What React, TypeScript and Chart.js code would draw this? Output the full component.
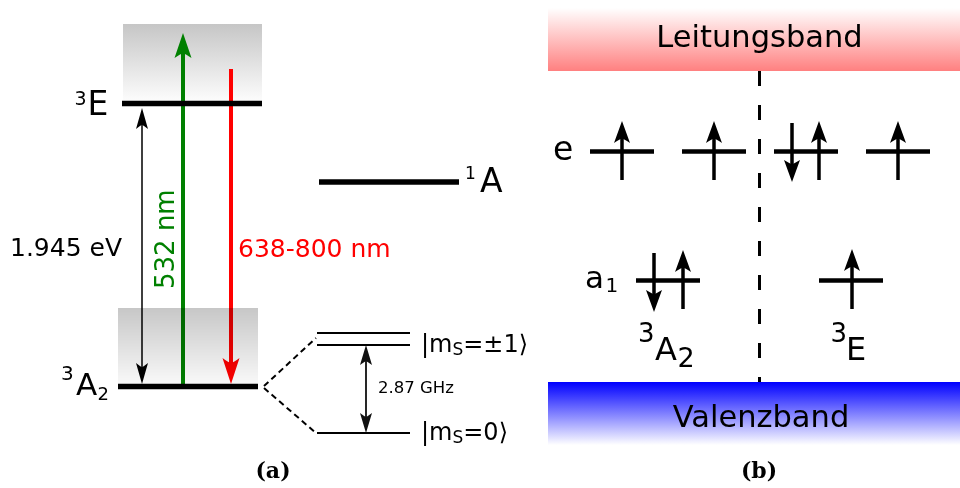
import { useEffect, useRef } from 'react';
import { Chart, registerables } from 'chart.js';

Chart.register(...registerables);

const WIDTH = 960;
const HEIGHT = 488;

// ---------- Panel (a): NV-centre energy scheme ----------
// electronic states: [xStart, xEnd, y]
const stateLevels: number[][] = [
  [122, 262, 103.5], // ³E
  [118, 258, 386.5], // ³A₂
  [319, 459, 182],   // ¹A
];
// ground-state spin sublevels: two |ms=±1⟩ lines and one |ms=0⟩ line
const spinSublevels: number[][] = [
  [317, 410, 333],
  [317, 410, 345],
  [317, 410, 433],
];
// dashed connectors from ³A₂ to its sublevels: [x0, y0, x1, y1]
const splitConnectors: number[][] = [
  [264, 386, 316, 338],
  [264, 388, 316, 433],
];
// phonon sidebands above each triplet level: [x0, x1, yTop, yBottom]
const upperSideband = [123, 262, 24, 103.5];
const lowerSideband = [118, 258, 308, 386.5];
// transitions: [x, yFrom, yTo]
const excitation532 = [183, 384, 33];
const emission638 = [231, 69, 384];
const zeroPhononGap = [142, 108, 384];   // double-headed
const zeroFieldSplit = [366, 345, 433];  // double-headed

// ---------- Panel (b): single-particle picture ----------
const conductionBand = [548, 960, 8, 71];
const valenceBand = [548, 960, 382, 445];
const bandDivider = [759.5, 71, 382];
// orbitals e (upper row) and a₁ (lower row): [xStart, xEnd, y]
const orbitalLevels: number[][] = [
  [590, 654, 151.5], [682, 746, 151.5], [774, 838, 151.5], [866, 930, 151.5],
  [636, 700, 280.5], [819, 883, 280.5],
];
// electron spins: [x, tailY, tipY]
const electronSpins: number[][] = [
  [622, 180, 121], [714, 180, 121], [792, 123, 182], [819, 180, 121], [898, 180, 121],
  [654, 253, 312], [683, 309, 250], [852, 309, 249],
];

type Pt = { x: number; y: number };
type Arrow = { x: number; from: number; to: number; color: string; width: number; len: number; wid: number; both: boolean };

const arrows: Arrow[] = [
  { x: excitation532[0], from: excitation532[1], to: excitation532[2], color: '#008000', width: 4, len: 25, wid: 17, both: false },
  { x: emission638[0], from: emission638[1], to: emission638[2], color: '#ff0000', width: 4, len: 26, wid: 17, both: false },
  { x: zeroPhononGap[0], from: zeroPhononGap[1], to: zeroPhononGap[2], color: '#000', width: 1.5, len: 21, wid: 12, both: true },
  { x: zeroFieldSplit[0], from: zeroFieldSplit[1], to: zeroFieldSplit[2], color: '#111', width: 1.8, len: 20, wid: 12, both: true },
  ...electronSpins.map(([x, f, t]) => ({ x, from: f, to: t, color: '#000', width: 3.5, len: 22, wid: 16, both: false })),
];

function lineDs(points: Pt[], color: string, width: number, dash: number[] = []) {
  return {
    data: points,
    showLine: true,
    borderColor: color,
    backgroundColor: color,
    borderWidth: width,
    borderDash: dash,
    borderCapStyle: 'butt',
    pointRadius: 0,
    pointHoverRadius: 0,
    fill: false,
    tension: 0,
    clip: false,
  };
}

function buildDatasets() {
  const ds: any[] = [];
  stateLevels.forEach(([a, b, y]) => ds.push(lineDs([{ x: a, y }, { x: b, y }], '#000', 5.5)));
  spinSublevels.forEach(([a, b, y]) => ds.push(lineDs([{ x: a, y }, { x: b, y }], '#000', 2)));
  splitConnectors.forEach(([x0, y0, x1, y1]) => ds.push(lineDs([{ x: x0, y: y0 }, { x: x1, y: y1 }], '#000', 2, [6, 4])));
  orbitalLevels.forEach(([a, b, y]) => ds.push(lineDs([{ x: a, y }, { x: b, y }], '#000', 4.5)));
  ds.push(lineDs([{ x: bandDivider[0], y: bandDivider[1] }, { x: bandDivider[0], y: bandDivider[2] }], '#000', 3, [15, 19]));
  arrows.forEach((a) => {
    const dir = Math.sign(a.to - a.from);
    const start = a.both ? a.from + dir * a.len * 0.6 : a.from;
    const end = a.to - dir * a.len * 0.6;
    ds.push(lineDs([{ x: a.x, y: start }, { x: a.x, y: end }], a.color, a.width));
  });
  return ds;
}

function drawHead(ctx: CanvasRenderingContext2D, x: number, y: number, dir: number, len: number, wid: number, color: string) {
  // dir = +1 points down, -1 points up; straight flanks with a shallow notched back
  ctx.save();
  ctx.fillStyle = color;
  ctx.beginPath();
  ctx.moveTo(x, y);
  ctx.lineTo(x + wid / 2, y - dir * len);
  ctx.quadraticCurveTo(x + wid * 0.15, y - dir * len * 0.84, x, y - dir * len * 0.8);
  ctx.quadraticCurveTo(x - wid * 0.15, y - dir * len * 0.84, x - wid / 2, y - dir * len);
  ctx.closePath();
  ctx.fill();
  ctx.restore();
}

const SANS = '"DejaVu Sans", sans-serif';

// text pieces: [text, x, baseline, size]
type Piece = [string, number, number, number];
const blackPieces: Piece[] = [
  ['3', 74.5, 105, 19], ['E', 87.5, 115, 33],
  ['3', 61, 380, 20], ['A', 76, 395, 31], ['2', 97.5, 400, 18],
  ['1', 465, 179, 17], ['A', 480, 192, 33],
  ['1.945 eV', 10, 256, 25],
  ['2.87 GHz', 378, 393, 16.5],
  ['e', 553, 160, 33],
  ['a', 585, 288, 31], ['1', 605.5, 292, 20],
  ['3', 638, 342, 26], ['A', 655, 360, 32], ['2', 677.5, 367, 27],
  ['3', 830.5, 342, 26], ['E', 846, 360, 32],
];

// rich runs: [text, size, rise]
const ketPlusMinus: [string, number, number][] = [['|m', 24, 0], ['S', 17, -3], ['=±1⟩', 24, 0]];
const ketZero: [string, number, number][] = [['|m', 24, 0], ['S', 17, -3], ['=0⟩', 24, 0]];

function drawRun(ctx: CanvasRenderingContext2D, x: number, y: number, run: [string, number, number][]) {
  let cx = x;
  run.forEach(([t, size, rise]) => {
    ctx.font = `${size}px ${SANS}`;
    ctx.fillText(t, cx, y - rise);
    cx += ctx.measureText(t).width;
  });
}

function verticalGradientRect(ctx: CanvasRenderingContext2D, x0: number, x1: number, y0: number, y1: number, top: string, bottom: string) {
  const g = ctx.createLinearGradient(0, y0, 0, y1);
  g.addColorStop(0, top);
  g.addColorStop(1, bottom);
  ctx.fillStyle = g;
  ctx.fillRect(x0, y0, x1 - x0, y1 - y0);
}

const diagramPlugin = {
  id: 'nvDiagram',
  beforeDatasetsDraw(chart: any) {
    const { ctx } = chart;
    const sx = (v: number) => chart.scales.x.getPixelForValue(v);
    const sy = (v: number) => chart.scales.y.getPixelForValue(v);
    ctx.save();
    // bands
    verticalGradientRect(ctx, sx(conductionBand[0]), sx(conductionBand[1]), sy(conductionBand[2]), sy(conductionBand[3]), 'rgba(255,255,255,1)', 'rgb(255,128,128)');
    verticalGradientRect(ctx, sx(valenceBand[0]), sx(valenceBand[1]), sy(valenceBand[2]), sy(valenceBand[3]), 'rgb(0,0,255)', 'rgba(255,255,255,1)');
    // upper sideband
    verticalGradientRect(ctx, sx(upperSideband[0]), sx(upperSideband[1]), sy(upperSideband[2]), sy(upperSideband[3]), 'rgb(198,198,198)', 'rgb(254,254,254)');
    ctx.restore();
  },
  afterDatasetsDraw(chart: any) {
    const { ctx } = chart;
    const sx = (v: number) => chart.scales.x.getPixelForValue(v);
    const sy = (v: number) => chart.scales.y.getPixelForValue(v);
    arrows.forEach((a) => {
      const dir = Math.sign(a.to - a.from);
      drawHead(ctx, sx(a.x), sy(a.to), dir, a.len, a.wid, a.color);
      if (a.both) drawHead(ctx, sx(a.x), sy(a.from), -dir, a.len, a.wid, a.color);
    });
    // translucent lower sideband lies over the transitions
    ctx.save();
    verticalGradientRect(ctx, sx(lowerSideband[0]), sx(lowerSideband[1]), sy(lowerSideband[2]), sy(lowerSideband[3]), 'rgba(0,0,0,0.22)', 'rgba(0,0,0,0.02)');
    ctx.restore();

    // labels
    ctx.save();
    ctx.textBaseline = 'alphabetic';
    ctx.textAlign = 'left';
    ctx.fillStyle = '#000';
    blackPieces.forEach(([t, x, y, size]) => {
      ctx.font = `${size}px ${SANS}`;
      ctx.fillText(t, sx(x), sy(y));
    });
    drawRun(ctx, sx(421), sy(352), ketPlusMinus);
    drawRun(ctx, sx(421), sy(440), ketZero);

    ctx.fillStyle = '#ff0000';
    ctx.font = `25px ${SANS}`;
    ctx.fillText('638-800 nm', sx(238), sy(257));

    ctx.save();
    ctx.fillStyle = '#008000';
    ctx.font = `26px ${SANS}`;
    ctx.translate(sx(173.5), sy(289));
    ctx.rotate(-Math.PI / 2);
    ctx.fillText('532 nm', 0, 0);
    ctx.restore();

    ctx.fillStyle = '#000';
    ctx.textAlign = 'center';
    ctx.font = `30.5px ${SANS}`;
    ctx.fillText('Leitungsband', sx(759.5), sy(47));
    ctx.fillText('Valenzband', sx(761), sy(427));

    ctx.font = `bold 22px "DejaVu Serif", serif`;
    ctx.fillText('(a)', sx(273), sy(478));
    ctx.fillText('(b)', sx(759), sy(478));
    ctx.restore();
  },
};

export default function App() {
  const canvasRef = useRef<HTMLCanvasElement | null>(null);

  useEffect(() => {
    if (!canvasRef.current) return;
    const chart = new Chart(canvasRef.current, {
      type: 'scatter',
      data: { datasets: buildDatasets() },
      options: {
        responsive: false,
        animation: false,
        events: [],
        layout: { padding: 0 },
        plugins: { legend: { display: false }, tooltip: { enabled: false } },
        scales: {
          x: { type: 'linear', min: 0, max: WIDTH, display: false },
          y: { type: 'linear', min: 0, max: HEIGHT, reverse: true, display: false },
        },
      },
      plugins: [diagramPlugin],
    } as any);
    return () => chart.destroy();
  }, []);

  return (
    <div style={{ position: 'absolute', left: 0, top: 0, width: WIDTH, height: HEIGHT, background: '#fff' }}>
      <canvas ref={canvasRef} width={WIDTH} height={HEIGHT} style={{ display: 'block' }} />
    </div>
  );
}
